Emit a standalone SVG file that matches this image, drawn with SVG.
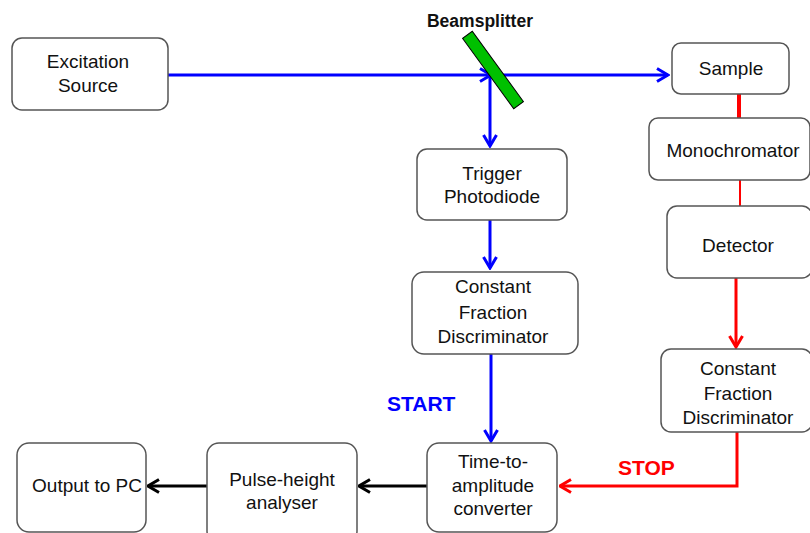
<svg xmlns="http://www.w3.org/2000/svg" width="810" height="533" viewBox="0 0 810 533">
<style>
.box{fill:#fff;stroke:#555;stroke-width:1.5}
.t{font-family:"Liberation Sans",Arial,sans-serif;font-size:19px;fill:#111;text-anchor:middle}
.lb{font-family:"Liberation Sans",Arial,sans-serif;font-weight:bold;font-size:21px}
.b{stroke:#0000ff;stroke-width:3;fill:none}
.r{stroke:#ff0000;stroke-width:3;fill:none}
.k{stroke:#000;stroke-width:3;fill:none}
</style>
<defs>
<marker id="ab" viewBox="0 0 14 16" refX="12.5" refY="8" markerWidth="14" markerHeight="16" markerUnits="userSpaceOnUse" orient="auto"><path d="M1.5,1.5 L12.5,8 L1.5,14.5" fill="none" stroke="#0000ff" stroke-width="3"/></marker>
<marker id="ar" viewBox="0 0 14 16" refX="12.5" refY="8" markerWidth="14" markerHeight="16" markerUnits="userSpaceOnUse" orient="auto"><path d="M1.5,1.5 L12.5,8 L1.5,14.5" fill="none" stroke="#ff0000" stroke-width="3"/></marker>
<marker id="ak" viewBox="0 0 14 16" refX="12.5" refY="8" markerWidth="14" markerHeight="16" markerUnits="userSpaceOnUse" orient="auto"><path d="M1.5,1.5 L12.5,8 L1.5,14.5" fill="none" stroke="#000" stroke-width="3"/></marker>
</defs>
<rect width="810" height="533" fill="#fff"/>
<g id="connectors">
<line class="b" x1="168" y1="75" x2="491" y2="75" marker-end="url(#ab)"/>
<line class="b" x1="490" y1="75" x2="668" y2="75" marker-end="url(#ab)"/>
<line class="b" x1="490" y1="75" x2="490" y2="146" marker-end="url(#ab)"/>
<line class="b" x1="490" y1="220" x2="490" y2="268" marker-end="url(#ab)"/>
<line class="b" x1="491" y1="354" x2="491" y2="441" marker-end="url(#ab)"/>
<line stroke="#ff0000" stroke-width="4" x1="739" y1="94" x2="739" y2="118"/>
<line stroke="#ff0000" stroke-width="2" x1="740" y1="180" x2="740" y2="207"/>
<line class="r" x1="736" y1="278" x2="736" y2="347" marker-end="url(#ar)"/>
<polyline class="r" points="737,432 737,486 560,486" marker-end="url(#ar)"/>
<line class="k" x1="427" y1="486" x2="359" y2="486" marker-end="url(#ak)"/>
<line class="k" x1="207" y1="486" x2="148" y2="486" marker-end="url(#ak)"/>
</g>
<g id="beamsplitter">
<rect x="449.5" y="64" width="87" height="12" transform="rotate(54 493 70)" fill="#00c000" stroke="#000" stroke-width="1"/>
<text class="t" x="480" y="27" style="font-weight:bold;font-size:17.5px">Beamsplitter</text>
</g>
<g id="excitation"><rect class="box" x="12" y="38" width="156" height="72" rx="10"/><text class="t" x="88" y="68">Excitation</text><text class="t" x="88" y="92">Source</text></g>
<g id="sample"><rect class="box" x="672" y="43" width="117" height="51" rx="9"/><text class="t" x="731" y="75">Sample</text></g>
<g id="mono"><rect class="box" x="649" y="118" width="161" height="62" rx="9"/><text class="t" x="733" y="157">Monochromator</text></g>
<g id="detector"><rect class="box" x="667" y="206" width="145" height="72" rx="10"/><text class="t" x="738" y="252">Detector</text></g>
<g id="cfd2"><rect class="box" x="661" y="349" width="151" height="83" rx="10"/><text class="t" x="738" y="375">Constant</text><text class="t" x="738" y="400">Fraction</text><text class="t" x="738" y="424">Discriminator</text></g>
<g id="trigger"><rect class="box" x="417" y="149" width="150" height="71" rx="10"/><text class="t" x="492" y="180">Trigger</text><text class="t" x="492" y="203">Photodiode</text></g>
<g id="cfd1"><rect class="box" x="412" y="272" width="166" height="82" rx="12"/><text class="t" x="493" y="293">Constant</text><text class="t" x="493" y="319">Fraction</text><text class="t" x="493" y="343">Discriminator</text></g>
<g id="tac"><rect class="box" x="427" y="443" width="130" height="89" rx="12"/><text class="t" x="493" y="468">Time-to-</text><text class="t" x="493" y="492">amplitude</text><text class="t" x="493" y="515">converter</text></g>
<g id="pha"><rect class="box" x="207" y="443" width="150" height="100" rx="12"/><text class="t" x="282" y="486">Pulse-height</text><text class="t" x="282" y="509">analyser</text></g>
<g id="pc"><rect class="box" x="17" y="443" width="129" height="89" rx="12"/><text class="t" x="87" y="492">Output to PC</text></g>
<text class="lb" x="387" y="411" fill="#0000ff">START</text>
<text class="lb" x="618" y="475" fill="#ff0000">STOP</text>
</svg>
